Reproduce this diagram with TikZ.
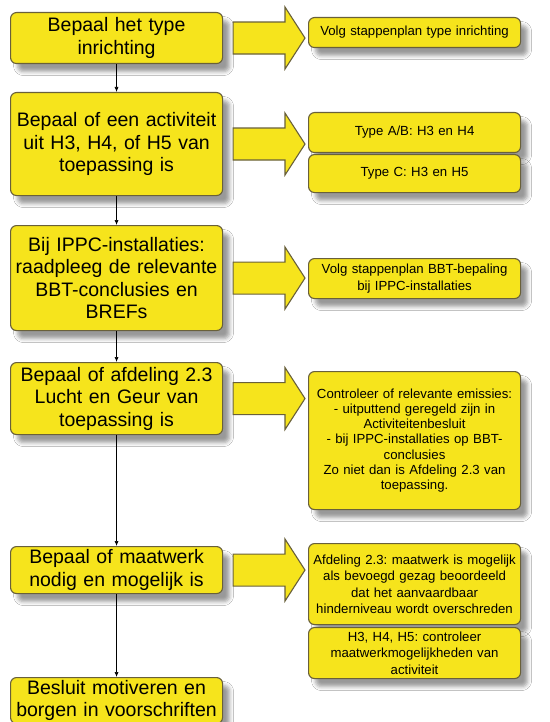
\documentclass[tikz,border=0pt]{standalone}
\usepackage{fontspec}
\setmainfont{Liberation Sans}
\usetikzlibrary{calc,arrows.meta,shadows.blur}
\frenchspacing

\definecolor{boxfill}{RGB}{246,228,28}
\definecolor{boxline}{RGB}{105,96,58}
\definecolor{shade}{RGB}{200,200,208}

\tikzset{
  stepbox/.style={draw=boxline, fill=boxfill, line width=1.1pt, rounded corners=6pt,
    anchor=north west, minimum width=212pt, text width=206pt, inner sep=0pt, align=center,
    font=\fontsize{19.5}{22.5}\selectfont,
    blur shadow={shadow xshift=7pt, shadow yshift=-8pt, shadow blur radius=4pt, shadow opacity=40}},
  notebox/.style={stepbox, text width=210pt, font=\fontsize{13.2}{16.5}\selectfont},
  bigarrow/.style={draw=boxline, fill=boxfill, line width=1.1pt, line join=miter},
  flow/.style={-{Latex[length=5pt,width=4pt]}, line width=0.6pt}
}

% block arrow from a step to its note(s)
\newcommand{\blockarrow}[2]{%
  \coordinate (s) at ($(#1.east)+(10,0)$);
  \coordinate (t) at ($(#2.west |- #1.east)+(-3,0)$);
  \draw[bigarrow] ($(s)+(0,-16)$) -- ($(t)+(-20,-16)$) -- ($(t)+(-20,-31)$) -- (t)
    -- ($(t)+(-20,31)$) -- ($(t)+(-20,16)$) -- ($(s)+(0,16)$) -- cycle;}

\begin{document}
\begin{tikzpicture}[x=1pt, y=-1pt]
  \useasboundingbox[fill=white] (0,0) rectangle (549,722);

  % Steps
  \node[stepbox, minimum height=51pt] (type) at (10,12) {Bepaal het type\\inrichting};
  \node[stepbox, minimum height=103pt] (act) at (10,92) {Bepaal of een activiteit\\uit H3, H4, of H5 van\\toepassing is};
  \node[stepbox, minimum height=105pt] (ippc) at (10,225) {Bij IPPC-installaties:\\raadpleeg de relevante\\BBT-conclusies en\\BREFs};
  \node[stepbox, minimum height=72pt] (lucht) at (10,362) {Bepaal of afdeling 2.3\\Lucht en Geur van\\toepassing is};
  \node[stepbox, minimum height=47pt] (maat) at (10,546) {Bepaal of maatwerk\\nodig en mogelijk is};
  \node[stepbox, minimum height=46pt] (besluit) at (10,677) {Besluit motiveren en\\borgen in voorschriften};

  \draw[flow] (type) -- (act);
  \draw[flow] (act) -- (ippc);
  \draw[flow] (ippc) -- (lucht);
  \draw[flow] (lucht) -- (maat);
  \draw[flow] (maat) -- (besluit);

  % Notes
  \node[notebox, minimum height=30pt] (plan) at (308,17) {Volg stappenplan type inrichting};
  \node[notebox, minimum height=40pt] (ab) at (308,112) {Type A/B: H3 en H4};
  \node[notebox, minimum height=38pt] (c) at (308,154) {Type C: H3 en H5};
  \node[notebox, minimum height=40pt] (bbt) at (308,258) {Volg stappenplan BBT-bepaling\\bij IPPC-installaties};
  \node[notebox, minimum height=138pt, font=\fontsize{13.2}{15.3}\selectfont] (emis) at (308,371)
    {Controleer of relevante emissies:\\- uitputtend geregeld zijn in\\Activiteitenbesluit\\- bij IPPC-installaties op BBT-\\conclusies\\Zo niet dan is Afdeling 2.3 van\\toepassing.\par\vspace*{24pt}};
  \node[notebox, minimum height=81pt] (afd) at (308,543) {Afdeling 2.3: maatwerk is mogelijk\\als bevoegd gezag beoordeeld\\dat het aanvaardbaar\\hinderniveau wordt overschreden};
  \node[notebox, minimum height=51pt] (hmaat) at (308,627) {H3, H4, H5: controleer\\maatwerkmogelijkheden van\\activiteit};

  \blockarrow{type}{plan}
  \blockarrow{act}{ab}
  \blockarrow{ippc}{bbt}
  \blockarrow{lucht}{emis}
  \blockarrow{maat}{afd}
\end{tikzpicture}
\end{document}
